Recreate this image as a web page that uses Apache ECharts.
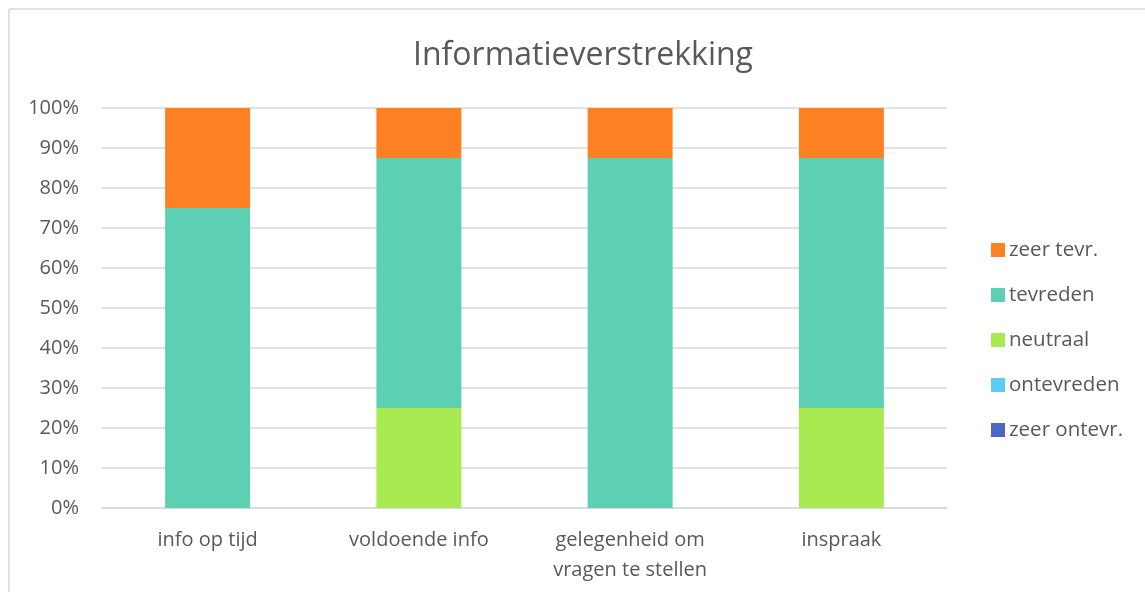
<!DOCTYPE html>
<html><head><meta charset="utf-8">
<script src="https://cdn.jsdelivr.net/npm/echarts@6/dist/echarts.min.js"></script>
<style>html,body{margin:0;padding:0;background:#fff}#c{width:1145px;height:592px}</style>
</head><body><div id="c"></div>
<script>
const categories = ['info op tijd', 'voldoende info', 'gelegenheid om\nvragen te stellen', 'inspraak'];
const zeerOntevr = [0, 0, 0, 0];
const ontevreden = [0, 0, 0, 0];
const neutraal = [0, 25, 0, 25];
const tevreden = [75, 62.5, 87.5, 62.5];
const zeerTevr = [25, 12.5, 12.5, 12.5];
const seriesNames = ['zeer ontevr.', 'ontevreden', 'neutraal', 'tevreden', 'zeer tevr.'];
const seriesData = [zeerOntevr, ontevreden, neutraal, tevreden, zeerTevr];
const colors = ['#4f66c7', '#5ccdf2', '#a9ea52', '#5dcfb2', '#fd8122'];

const chart = echarts.init(document.getElementById('c'), null, {renderer: 'canvas'});
const txt = '#595959';
const font = 'Open Sans';
chart.setOption({
  animation: false,
  textStyle: {fontFamily: font},
  title: {
    text: 'Informatieverstrekking', left: 408, top: 35,
    textStyle: {fontFamily: font, fontSize: 32, fontWeight: 'normal', color: txt}
  },
  legend: {
    orient: 'vertical', left: 986, top: 233,
    itemWidth: 14, itemHeight: 14, itemGap: 21,
    icon: 'rect',
    data: seriesNames.slice().reverse(),
    textStyle: {fontFamily: font, fontSize: 20.5, color: txt, lineHeight: 24, padding: [0, 0, 0, -1]}
  },
  grid: {left: 102, right: 198, top: 108, bottom: 84, containLabel: false},
  xAxis: {
    type: 'category', data: categories,
    axisLine: {lineStyle: {color: '#d9d9d9', width: 1.5}},
    axisTick: {show: false},
    axisLabel: {fontFamily: font, fontSize: 20, color: txt, lineHeight: 30, margin: 17}
  },
  yAxis: {
    type: 'value', min: 0, max: 100, interval: 10,
    axisLine: {show: false}, axisTick: {show: false},
    splitLine: {lineStyle: {color: '#d9d9d9', width: 1.5}},
    axisLabel: {fontFamily: font, fontSize: 20, color: txt, margin: 23, formatter: '{value}%'}
  },
  graphic: [
    {type: 'line', shape: {x1: 9, y1: 9, x2: 1145, y2: 9}, style: {stroke: '#d9d9d9', lineWidth: 1.5}, silent: true},
    {type: 'line', shape: {x1: 9, y1: 9, x2: 9, y2: 592}, style: {stroke: '#d9d9d9', lineWidth: 1.5}, silent: true}
  ],
  series: seriesNames.map((n, i) => ({
    name: n, type: 'bar', stack: 'total', data: seriesData[i],
    barWidth: 85, itemStyle: {color: colors[i]}
  }))
});
</script></body></html>
